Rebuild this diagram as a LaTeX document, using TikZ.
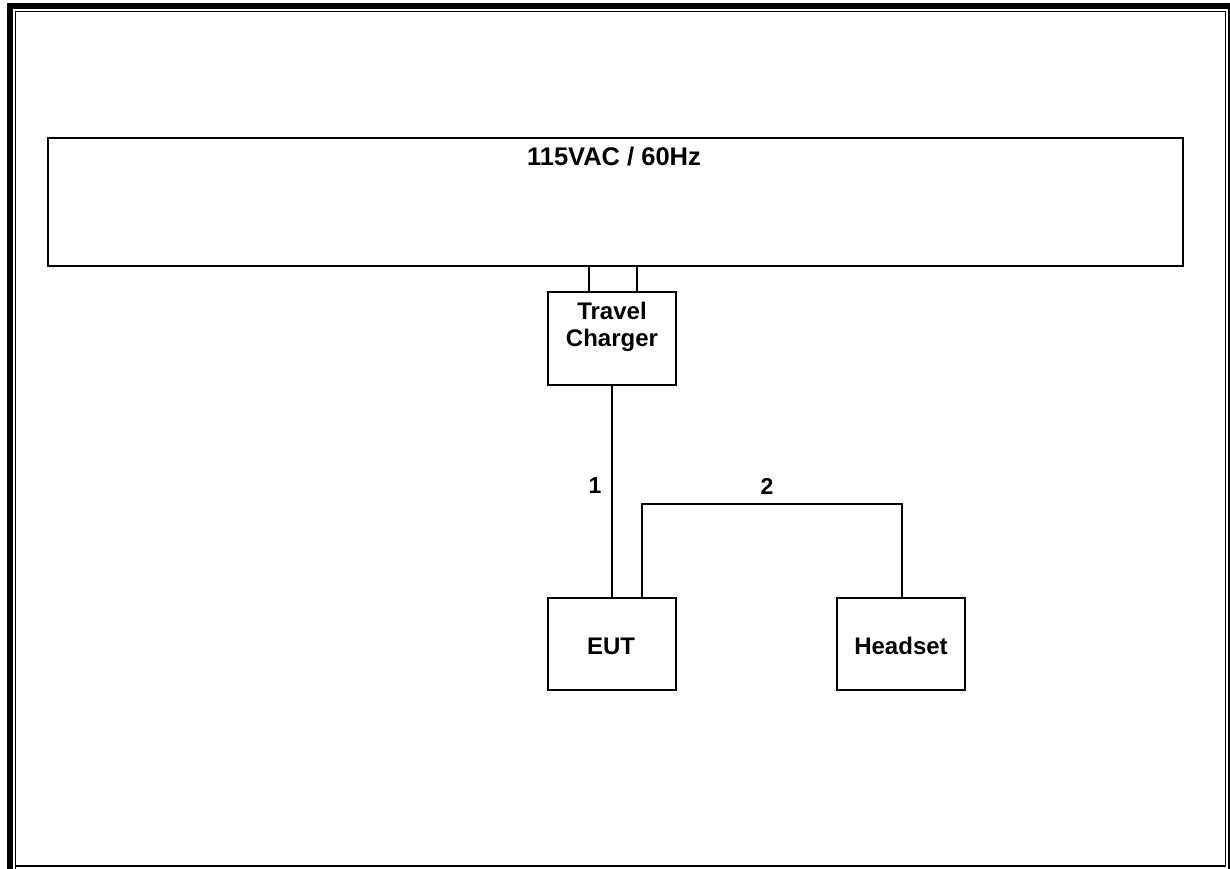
\documentclass[tikz,border=0pt]{standalone}
\usepackage{fontspec}
\setmainfont{Liberation Sans}
\begin{document}
\begin{tikzpicture}[x=1pt,y=-1pt,
  box/.style={draw,line width=1.4pt,inner sep=0pt},
  wire/.style={line width=1.4pt},
  lbl/.style={font=\fontsize{23}{27}\selectfont\bfseries,inner sep=0pt,align=center}]
\useasboundingbox (0,0) rectangle (1230,869);
% page border
\fill (7,3) rectangle (13,869);
\fill (7,3) rectangle (1230,9);
\draw[line width=1.8pt] (1229,3) -- (1229,869);
\draw[line width=1.8pt] (15.5,869) -- (15.5,11.5) -- (1225.5,11.5) -- (1225.5,866) -- (15.5,866);
% mains
\node[box,minimum width=1135pt,minimum height=128pt] (mains) at (615.5,202) {};
\node[lbl,font=\fontsize{25.5}{29}\selectfont\bfseries] (mainslbl) at (614,157) {115VAC / 60Hz};
% charger
\node[box,minimum width=128pt,minimum height=93pt] (chg) at (612,338.5) {};
\node[lbl,font=\fontsize{24}{28}\selectfont\bfseries] (chglbl) at (612,327) {Travel\\[-0.5pt]Charger};
\coordinate (p1t) at (589,266);
\coordinate (p2t) at (637,266);
\draw[wire] (p1t) -- (p1t |- chg.north);
\draw[wire] (p2t) -- (p2t |- chg.north);
% EUT and headset
\node[box,minimum width=128pt,minimum height=92pt] (eut) at (612,644) {};
\node[lbl,font=\fontsize{24}{28}\selectfont\bfseries] (eutlbl) at (611,646) {EUT};
\node[box,minimum width=128pt,minimum height=92pt] (hs) at (901,644) {};
\node[lbl,font=\fontsize{24}{28}\selectfont\bfseries] (hslbl) at (901,646) {Headset};
% cable 1
\draw[wire] (chg.south) -- (eut.north);
\node[lbl] (c1) at (595,486) {1};
% cable 2
\coordinate (c2a) at (642,504);
\coordinate (c2b) at (902,504);
\draw[wire] (c2a |- eut.north) -- (c2a) -- (c2b) -- (c2b |- hs.north);
\node[lbl] (c2) at (767,486) {2};
\end{tikzpicture}
\end{document}
